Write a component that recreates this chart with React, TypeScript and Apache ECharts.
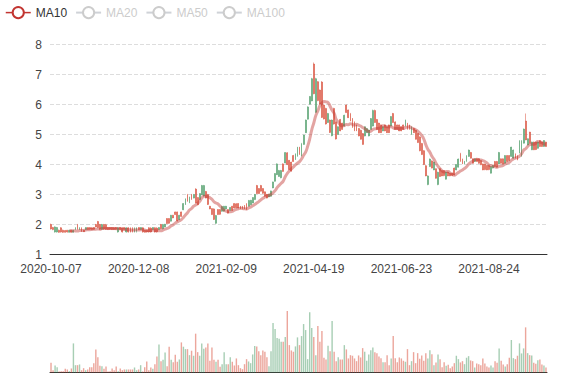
import React, { useEffect, useRef } from 'react';
import * as echarts from 'echarts';

const startDate = '2020-10-07';
const holidays = [
  '2020-10-26', '2020-12-25', '2021-01-01', '2021-02-11', '2021-02-12', '2021-02-15',
  '2021-04-02', '2021-04-05', '2021-04-06', '2021-05-03', '2021-05-19', '2021-06-04',
  '2021-06-14', '2021-07-01', '2021-09-22', '2021-10-01',
];

// [open, close, low, high]
const candles: number[][] = [
  [2.0,1.85,1.83,2.03],[1.9,1.83,1.81,1.92],[1.75,1.92,1.73,1.94],[1.75,1.9,1.73,1.92],[1.81,1.74,1.72,1.83],
  [1.89,1.75,1.73,1.91],[1.81,1.74,1.72,1.83],[1.8,1.74,1.73,1.82],[1.81,1.75,1.73,1.82],[1.74,1.81,1.73,1.82],
  [1.81,1.74,1.73,1.82],[1.74,1.8,1.73,1.82],[1.83,1.9,1.82,1.91],[2.0,1.84,1.82,2.02],[1.83,1.9,1.82,1.91],
  [1.89,1.77,1.75,1.91],[1.81,1.76,1.75,1.82],[1.83,1.9,1.82,1.91],[1.9,1.83,1.82,1.91],[1.9,1.84,1.82,1.91],
  [1.89,1.83,1.82,1.91],[1.9,1.84,1.82,1.91],[2.0,1.92,1.91,2.02],[2.1,1.9,1.88,2.12],[2.0,1.84,1.82,2.02],
  [1.84,2.0,1.82,2.02],[2.0,1.85,1.82,2.02],[1.99,1.84,1.82,2.02],[1.9,1.83,1.82,1.91],[1.9,1.84,1.82,1.91],
  [1.9,1.83,1.82,1.91],[1.89,1.83,1.82,1.91],[1.9,1.84,1.82,1.91],[1.75,1.89,1.73,1.91],[1.9,1.83,1.82,1.91],
  [1.89,1.75,1.73,1.91],[1.9,1.83,1.82,1.91],[1.75,1.89,1.73,1.91],[1.89,1.75,1.73,1.91],[1.88,1.75,1.73,1.91],
  [1.89,1.76,1.73,1.91],[1.75,1.88,1.73,1.91],[1.76,1.89,1.73,1.91],[1.9,1.83,1.82,1.91],[1.83,1.9,1.82,1.91],
  [1.89,1.75,1.73,1.91],[1.81,1.74,1.73,1.82],[1.81,1.75,1.73,1.82],[1.89,1.75,1.73,1.91],[1.88,1.75,1.73,1.91],
  [1.83,1.9,1.82,1.91],[1.89,1.75,1.73,1.91],[1.88,1.76,1.73,1.91],[1.83,1.9,1.82,1.91],[2.0,1.86,1.84,2.02],
  [1.86,2.0,1.84,2.02],[1.92,2.01,1.91,2.02],[2.2,2.03,2.02,2.21],[2.2,2.04,2.02,2.21],[2.11,2.31,2.1,2.32],
  [2.31,2.22,2.21,2.32],[2.42,2.33,2.32,2.43],[2.42,2.12,2.1,2.43],
  [2.16,2.31,2.15,2.32],[2.42,2.27,2.26,2.43],[2.49,2.7,2.48,2.71],[2.66,2.86,2.65,2.87],[3.0,2.77,2.76,3.02],
  [2.72,2.92,2.71,2.93],[3.0,2.83,2.82,3.02],[2.88,3.0,2.87,3.02],[3.18,2.72,2.71,3.21],[2.9,2.66,2.65,2.91],
  [2.83,3.03,2.82,3.04],[2.99,3.3,2.98,3.32],[2.95,3.3,2.93,3.32],[3.1,2.88,2.87,3.12],[3.0,2.67,2.65,3.02],
  [2.61,2.52,2.51,2.62],[2.53,2.33,2.32,2.54],[2.52,2.17,2.15,2.54],[2.04,2.3,2.02,2.32],[2.5,2.33,2.32,2.51],
  [2.5,2.34,2.32,2.51],[2.44,2.6,2.43,2.62],[2.45,2.61,2.43,2.62],[2.52,2.61,2.51,2.62],[2.5,2.38,2.37,2.51],
  [2.47,2.57,2.46,2.58],[2.61,2.47,2.46,2.62],[2.7,2.55,2.54,2.71],[2.69,2.56,2.54,2.71],[2.7,2.55,2.54,2.71],
  [2.61,2.52,2.51,2.62],[2.61,2.53,2.51,2.62],[2.64,2.52,2.51,2.65],[2.7,2.5,2.48,2.71],[2.61,2.8,2.6,2.82],
  [2.66,2.81,2.65,2.82],[2.72,2.9,2.71,2.91],[2.83,3.0,2.82,3.02],[3.3,3.03,3.02,3.32],[3.2,3.03,3.02,3.21],
  [3.3,3.11,3.1,3.32],[3.2,3.04,3.02,3.21],[3.09,2.94,2.93,3.1],[3.0,2.88,2.87,3.02],[2.92,3.01,2.91,3.02],
  [2.94,3.12,2.93,3.13],[3.22,3.42,3.21,3.43],[3.44,3.7,3.43,3.71],[3.66,4.02,3.65,4.04],[3.6,3.8,3.59,3.82],
  [3.56,3.8,3.54,3.82],[4.02,3.77,3.76,4.04],[4.05,4.4,4.04,4.41],[4.39,4.0,3.98,4.41],[4.14,3.83,3.82,4.15],
  [4.08,3.78,3.76,4.09],[4.3,4.1,4.09,4.32],[4.16,4.36,4.15,4.37],[4.27,4.58,4.26,4.59],[4.58,4.33,4.32,4.59],
  [4.28,4.7,4.27,4.72],[4.67,4.98,4.66,4.99],[5.06,5.48,5.05,5.5],[5.51,5.92,5.5,5.94],[6.01,6.27,6.0,6.28],
  [6.12,6.86,6.11,6.89],[7.35,6.36,6.34,7.4],[5.74,6.86,5.72,6.89],[6.76,6.13,6.11,6.78],[6.48,6.02,6.0,6.5],
  [6.75,5.57,5.55,6.78],[5.98,5.52,5.5,6.0],[5.87,5.35,5.33,5.89],[5.4,5.7,5.39,5.72],[5.48,5.07,5.05,5.5],
  [4.96,5.48,4.94,5.5],[5.87,5.35,5.33,5.89],[5.42,4.85,4.83,5.44],[5.0,5.26,4.99,5.27],[5.5,5.12,5.11,5.52],
  [5.38,5.17,5.16,5.39],[5.28,5.64,5.27,5.66],[5.98,5.73,5.72,6.0],[5.82,5.56,5.55,5.83],[5.7,5.45,5.44,5.72],
  [5.54,5.23,5.22,5.55],[5.42,5.12,5.11,5.44],[5.32,5.12,5.11,5.33],[5.2,4.95,4.94,5.22],[5.14,4.84,4.83,5.16],
  [5.03,4.67,4.66,5.05],[4.95,5.26,4.94,5.27],[5.06,5.2,5.05,5.22],[4.95,5.15,4.94,5.16],[5.17,5.53,5.16,5.55],
  [5.28,5.8,5.27,5.83],[5.8,5.4,5.39,5.83],[5.5,5.17,5.16,5.52],[5.38,5.06,5.05,5.39],[5.32,5.06,5.05,5.33],
  [5.12,5.26,5.11,5.27],[5.32,5.12,5.11,5.33],[5.26,5.06,5.05,5.27],[5.32,5.06,5.05,5.33],[5.28,5.6,5.27,5.61],
  [5.7,5.4,5.39,5.72],[5.42,5.17,5.16,5.44],[5.32,5.17,5.16,5.33],[5.32,5.12,5.11,5.33],[5.26,5.12,5.11,5.27],
  [5.32,5.17,5.16,5.33],[5.28,5.48,5.27,5.5],[5.38,5.17,5.16,5.39],[5.32,5.17,5.16,5.33],[5.0,5.26,4.99,5.27],
  [5.2,5.06,5.05,5.22],[5.14,4.84,4.83,5.16],[5.04,4.73,4.72,5.05],[4.92,4.46,4.44,4.94],[4.7,4.33,4.32,4.72],
  [4.46,4.0,3.98,4.48],[3.96,3.62,3.61,3.98],[3.33,3.62,3.31,3.64],[3.93,4.18,3.92,4.2],[4.12,3.88,3.87,4.14],
  [3.82,4.08,3.81,4.09],[3.86,3.54,3.53,3.87],[3.33,3.74,3.31,3.76],[3.86,3.6,3.59,3.87],[3.8,3.62,3.61,3.81],
  [3.8,3.63,3.61,3.81],[3.51,3.75,3.5,3.76],[3.75,3.62,3.61,3.76],[3.71,3.62,3.61,3.72],[3.71,3.63,3.61,3.72],
  [3.88,3.65,3.64,3.9],[3.82,4.0,3.81,4.01],[3.91,4.18,3.9,4.2],[4.37,4.1,4.09,4.39],[4.18,4.02,4.01,4.2],
  [4.02,4.11,4.01,4.12],[4.1,4.3,4.09,4.31],[4.27,4.48,4.26,4.5],[4.4,4.21,4.2,4.42],[4.19,4.04,4.03,4.2],
  [4.1,4.19,4.09,4.2],[4.19,4.1,4.09,4.2],[4.19,4.04,4.03,4.2],[4.13,3.99,3.98,4.14],[4.02,3.82,3.81,4.03],
  [4.02,3.83,3.81,4.03],[3.97,3.82,3.81,3.98],[3.97,3.83,3.81,3.98],[3.71,3.93,3.7,3.94],[3.88,3.97,3.87,3.98],
  [4.1,3.93,3.92,4.12],[4.1,3.91,3.9,4.12],[4.02,4.4,4.01,4.42],[4.19,4.04,4.03,4.2],[4.19,4.02,4.01,4.2],
  [4.04,4.3,4.03,4.31],[4.3,4.1,4.09,4.31],[4.3,4.13,4.12,4.31],[4.27,4.58,4.26,4.59],[4.21,4.48,4.2,4.5],
  [4.36,4.21,4.2,4.37],[4.3,4.15,4.14,4.31],[4.38,4.8,4.37,4.81],[4.27,4.8,4.26,4.81],[4.71,5.18,4.7,5.2],
  [5.45,4.82,4.81,5.7],[4.65,4.86,4.64,4.87],[5.08,4.71,4.7,5.09],[4.49,4.75,4.48,4.76],[4.75,4.49,4.48,4.76],
  [4.75,4.5,4.48,4.76],[4.54,4.75,4.53,4.76],[4.8,4.6,4.59,4.81],[4.75,4.6,4.59,4.76],[4.6,4.8,4.59,4.81],
  [4.75,4.6,4.59,4.76],
];

const volumes: number[] = [
  97,23,70,53,10,13,13,37,30,13,40,290,73,73,80,23,43,23,30,53,
  53,93,230,153,67,63,37,60,10,13,40,23,60,13,40,23,30,30,30,30,
  30,50,23,30,73,10,53,110,23,50,37,83,160,280,113,127,200,63,257,127,
  103,177,107,130,300,257,233,233,173,217,167,387,203,167,290,237,250,290,117,250,
  127,107,127,57,83,203,83,83,153,107,70,140,73,43,33,83,133,110,93,180,
  263,260,213,173,220,207,153,63,213,493,433,343,337,307,307,353,
  613,273,220,207,260,350,273,363,483,423,133,600,443,353,173,463,307,413,147,130,
  267,213,513,207,113,153,130,130,273,230,140,173,167,140,113,170,150,243,207,117,
  180,223,250,203,193,160,143,103,103,173,73,140,363,143,103,150,140,117,107,233,
  73,113,203,93,193,137,170,117,193,140,223,183,73,100,180,133,53,103,67,77,
  43,60,93,167,133,100,113,83,147,163,120,113,50,90,83,73,140,90,60,50,
  70,50,113,97,240,117,80,60,83,147,323,143,133,167,290,190,240,450,193,173,
  170,97,87,123,130,80,70,50,
];

const maNames = ['MA10', 'MA20', 'MA50', 'MA100'];
const maPeriods = [10, 20, 50, 100];
const maColors = ['#c23531', '#2f4554', '#61a0a8', '#d48265'];
const yTicks = { min: 1, max: 8, step: 1 };

const upColor = '#4f9d69';
const downColor = '#d94e3a';

function buildDates(start: string, count: number, skip: string[]) {
  const out: string[] = [];
  const d = new Date(start + 'T00:00:00Z');
  while (out.length < count) {
    const wd = d.getUTCDay();
    const s = d.toISOString().slice(0, 10);
    if (wd !== 0 && wd !== 6 && skip.indexOf(s) < 0) out.push(s);
    d.setUTCDate(d.getUTCDate() + 1);
  }
  return out;
}

function calcMA(n: number) {
  return candles.map((_, i) => {
    if (i < n - 1) return '-';
    let s = 0;
    for (let j = 0; j < n; j++) s += candles[i - j][1];
    return +(s / n).toFixed(3);
  });
}

export default function App() {
  const ref = useRef<HTMLDivElement>(null);
  useEffect(() => {
    if (!ref.current) return;
    const chart = echarts.init(ref.current, undefined, { renderer: 'svg' });
    const dates = buildDates(startDate, candles.length, holidays);
    const axisColor = '#333';
    const labelColor = '#444';
    chart.setOption({
      animation: false,
      textStyle: { fontFamily: 'sans-serif' },
      legend: {
        left: 0,
        top: 1,
        data: maNames,
        selected: { MA20: false, MA50: false, MA100: false },
        inactiveColor: '#ccc',
        itemWidth: 25,
        itemHeight: 14,
        textStyle: { color: '#333', fontSize: 12 },
        lineStyle: { width: 1.5, opacity: 1 },
        itemStyle: { opacity: 1, borderWidth: 1.5 },
      },
      grid: [
        { left: 50, right: 30, top: 44.5, height: 210 },
        { left: 50, right: 30, top: 311, height: 61.5 },
      ],
      xAxis: [
        {
          type: 'category',
          data: dates,
          boundaryGap: true,
          axisLine: { lineStyle: { color: axisColor } },
          axisTick: { interval: 42, lineStyle: { color: axisColor } },
          axisLabel: { interval: 42, color: labelColor, fontSize: 12 },
          splitLine: { show: false },
        },
        {
          type: 'category',
          gridIndex: 1,
          data: dates,
          boundaryGap: true,
          axisLine: { lineStyle: { color: axisColor } },
          axisTick: { show: false },
          axisLabel: { show: false },
          splitLine: { show: false },
        },
      ],
      yAxis: [
        {
          type: 'value',
          min: yTicks.min,
          max: yTicks.max,
          interval: yTicks.step,
          axisLine: { show: false },
          axisTick: { show: false },
          axisLabel: { color: labelColor, fontSize: 12 },
          splitLine: { lineStyle: { type: 'dashed', color: '#ddd' } },
        },
        {
          type: 'value',
          gridIndex: 1,
          min: 0,
          max: 'dataMax',
          show: false,
          splitLine: { show: false },
        },
      ],
      series: [
        {
          name: 'K',
          type: 'candlestick',
          data: candles,
          barWidth: 1.35,
          itemStyle: {
            color: upColor,
            color0: downColor,
            borderColor: upColor,
            borderColor0: downColor,
            borderWidth: 0.5,
          },
        },
        ...maNames.map((name, k) => ({
          name,
          type: 'line',
          data: calcMA(maPeriods[k]),
          smooth: true,
          showSymbol: false,
          symbol: 'emptyCircle',
          itemStyle: { color: maColors[k] },
          lineStyle: { width: 3, opacity: 0.45, color: maColors[k] },
        })),
        {
          name: 'Volume',
          type: 'bar',
          xAxisIndex: 1,
          yAxisIndex: 1,
          data: volumes.map((v, i) => ({
            value: v,
            itemStyle: { color: candles[i][1] >= candles[i][0] ? upColor : downColor },
          })),
          itemStyle: { opacity: 0.5 },
        },
      ],
    });
    return () => chart.dispose();
  }, []);
  return (
    <div
      ref={ref}
      style={{ position: 'absolute', left: 0, top: 0, width: 577, height: 380 }}
    />
  );
}
